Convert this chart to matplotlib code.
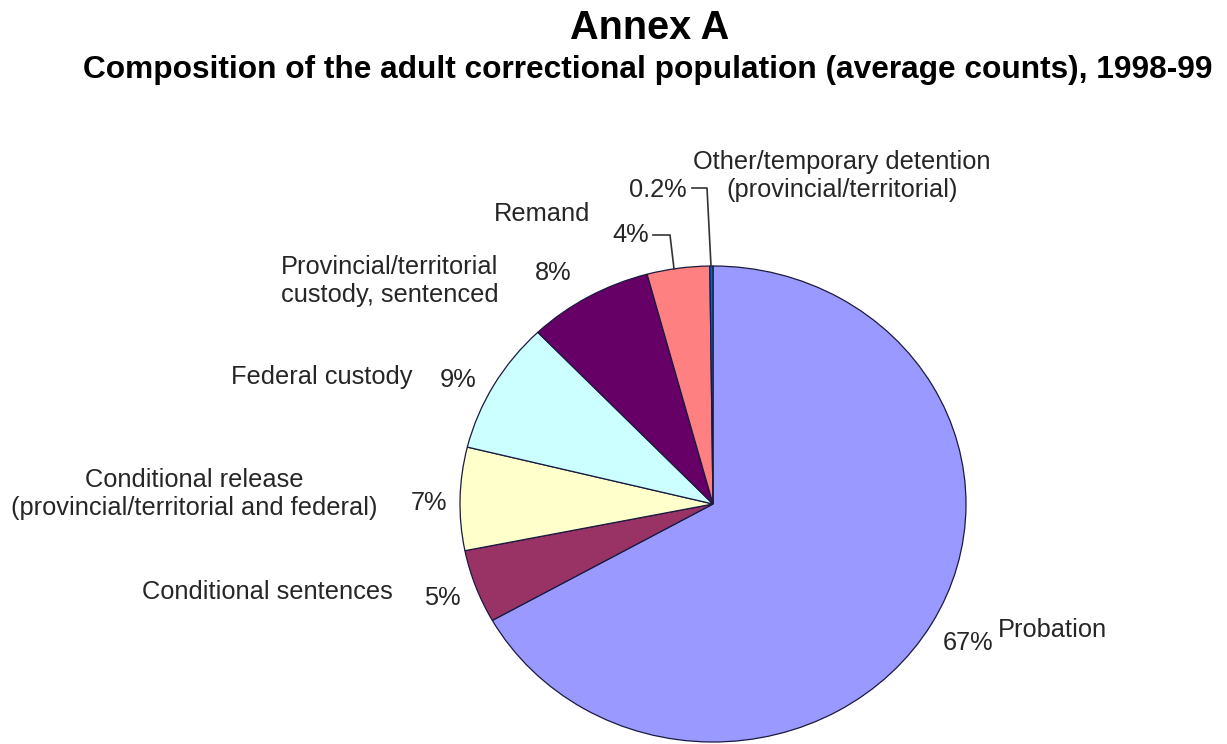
import matplotlib
matplotlib.use('Agg')
import matplotlib.pyplot as plt
import numpy as np

# %% data

categories = ['Probation', 'Conditional sentences',
              'Conditional release\n(provincial/territorial and federal)',
              'Federal custody', 'Provincial/territorial\ncustody, sentenced',
              'Remand', 'Other/temporary detention\n(provincial/territorial)']
shares = [67, 5, 7, 9, 8, 4, 0.2]
colors = ['#9999FF', '#993366', '#FFFFCC', '#CCFFFF', '#660066', '#FF8080', '#0066CC']

# %% layout (pixels from top-left of a 1227x744 canvas)

W, H = 1227, 744
CX, CY, RX, RY = 713, 504, 253, 238

# label centres: (name x, name y, pct x, pct y)
label_pos = [
    (1052, 630, 968, 643),
    (267, 592, 442, 598),
    (194, 494, 429, 503),
    (322, 377, 458, 380),
    (390, 281, 553, 273),
    (542, 214, 631, 235),
    (842, 176, 658, 190),
]
# leader lines for the small slices: (start x, elbow x, y)
leaders = {5: (653, 670, 235), 6: (692, 707, 188)}

TXT = '#262626'
FS = 18.3
plt.rcParams['font.family'] = ['Liberation Sans', 'DejaVu Sans']


def to_data(px, py):
    return (px - CX) / RX, (CY - py) / RY


# %% figure

fig = plt.figure(figsize=(W / 100, H / 100), dpi=100)
ax = fig.add_axes([(CX - RX) / W, (H - CY - RY) / H, 2 * RX / W, 2 * RY / H])
wedges, _ = ax.pie(shares, colors=colors, startangle=90, counterclock=False,
                   radius=1, center=(0, 0),
                   wedgeprops=dict(edgecolor='#1a1a40', linewidth=0.9))
ax.set_xlim(-1, 1)
ax.set_ylim(-1, 1)
ax.set_aspect('auto')
ax.axis('off')

for i, (name, v) in enumerate(zip(categories, shares)):
    nx, ny, qx, qy = label_pos[i]
    ax.text(*to_data(nx, ny), name, ha='center', va='center', fontsize=FS,
            color=TXT, linespacing=1.25, clip_on=False)
    ax.text(*to_data(qx, qy), f'{v:g}%', ha='center', va='center',
            fontsize=FS, color=TXT, clip_on=False)

# leader lines from the small percentages down to their slices
for i, (sx, ex, ey) in leaders.items():
    w = wedges[i]
    mid = np.deg2rad((w.theta1 + w.theta2) / 2)
    x0, y0 = to_data(sx, ey)
    x1, y1 = to_data(ex, ey)
    x2 = min(np.cos(mid), x1 + 4 / RX)
    y2 = np.sqrt(1 - x2 ** 2)
    ax.plot([x0, x1, x2], [y0, y1, y2], color='#333333',
            lw=1.2, clip_on=False)

fig.text(650 / W, 1 - 28 / H, 'Annex A', ha='center', va='center',
         fontsize=28.5, fontweight='bold', color='black')
fig.text(648 / W, 1 - 70 / H,
         'Composition of the adult correctional population (average counts), 1998-99',
         ha='center', va='center', fontsize=22.8, fontweight='bold', color='black')

fig.savefig('out.png', dpi=100, facecolor='white')
